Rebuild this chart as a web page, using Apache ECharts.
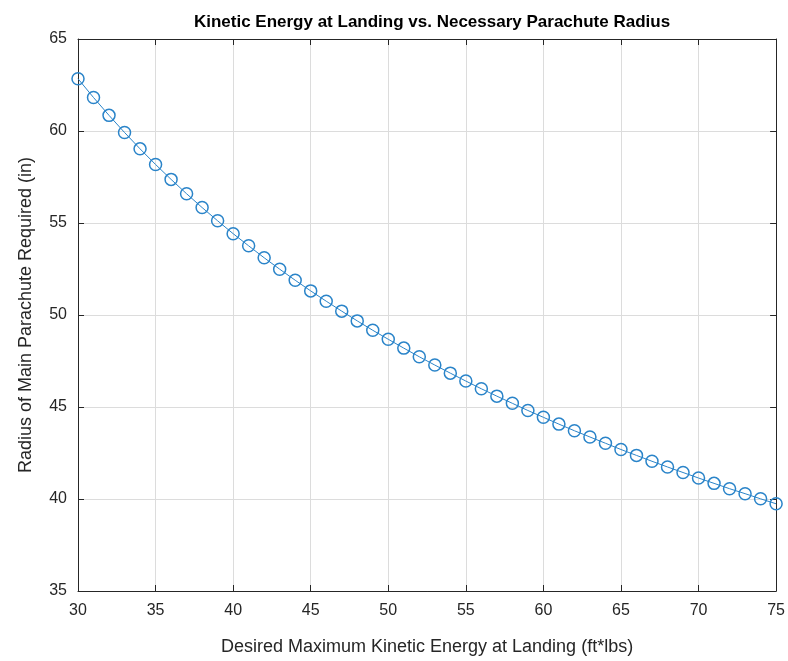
<!DOCTYPE html>
<html lang="en">
<head>
	<meta charset="UTF-8">
	<title>Kinetic Energy vs Parachute Radius</title>
	<script src="https://cdn.jsdelivr.net/npm/echarts@6/dist/echarts.min.js"></script>
	<style>
		html, body { margin: 0; padding: 0; background: #fff; }
	</style>
</head>
<body>
	<div id="chart" style="width: 788px; height: 661px;"></div>
	<script type="text/javascript">

		// desired max kinetic energy (ft*lbs)
		const energy = [30, 31, 32, 33, 34, 35, 36, 37, 38, 39, 40, 41, 42, 43, 44, 45,
			46, 47, 48, 49, 50, 51, 52, 53, 54, 55, 56, 57, 58, 59, 60,
			61, 62, 63, 64, 65, 66, 67, 68, 69, 70, 71, 72, 73, 74, 75];

		// radius of main parachute (in)
		const radius = [62.84, 61.82, 60.85, 59.92, 59.03, 58.18, 57.37, 56.59, 55.84, 55.12,
			54.42, 53.76, 53.11, 52.49, 51.89, 51.31, 50.75, 50.21, 49.68, 49.17,
			48.68, 48.20, 47.73, 47.28, 46.84, 46.41, 45.99, 45.59, 45.20, 44.81,
			44.44, 44.07, 43.71, 43.37, 43.03, 42.69, 42.37, 42.05, 41.74, 41.44,
			41.14, 40.85, 40.56, 40.29, 40.01, 39.74];

		const points = energy.map((e, i) => [e, radius[i]]);

		const font = 'Liberation Sans, Arial, sans-serif';
		const axisCol = '#262626';
		const blue = '#2a84c9';

		const chart = echarts.init(document.getElementById('chart'));

		const boxAxis = {
			axisLine: { show: true, onZero: false, lineStyle: { color: axisCol, width: 1 } },
			axisTick: { show: true, inside: true, length: 6, lineStyle: { color: axisCol } },
			axisLabel: { show: false },
			splitLine: { show: false }
		};

		chart.setOption({
			animation: false,
			title: {
				text: 'Kinetic Energy at Landing vs. Necessary Parachute Radius',
				left: 427,
				textAlign: 'center',
				top: 9,
				textStyle: { fontFamily: font, fontSize: 17, fontWeight: 'bold', color: '#000' }
			},
			grid: { left: 78, right: 10, top: 39, bottom: 68, containLabel: false },
			xAxis: [{
				type: 'value',
				min: 30, max: 75, interval: 5,
				name: 'Desired Maximum Kinetic Energy at Landing (ft*lbs)',
				nameLocation: 'middle',
				nameGap: 47,
				nameTextStyle: { fontFamily: font, fontSize: 18, color: axisCol },
				axisLine: { show: true, onZero: false, lineStyle: { color: axisCol } },
				axisTick: { show: true, inside: true, length: 6, lineStyle: { color: axisCol } },
				axisLabel: { fontFamily: font, fontSize: 16, color: axisCol, margin: 12 },
				splitLine: { show: true, lineStyle: { color: '#dcdcdc', width: 1 } }
			}, Object.assign({ type: 'value', position: 'top', min: 30, max: 75, interval: 5 }, boxAxis)],
			yAxis: [{
				type: 'value',
				min: 35, max: 65, interval: 5,
				name: 'Radius of Main Parachute Required (in)',
				nameLocation: 'middle',
				nameGap: 43,
				nameTextStyle: { fontFamily: font, fontSize: 18, color: axisCol },
				axisLine: { show: true, onZero: false, lineStyle: { color: axisCol } },
				axisTick: { show: true, inside: true, length: 6, lineStyle: { color: axisCol } },
				axisLabel: { fontFamily: font, fontSize: 16, color: axisCol, margin: 11 },
				splitLine: { show: true, lineStyle: { color: '#dcdcdc', width: 1 } }
			}, Object.assign({ type: 'value', position: 'right', min: 35, max: 65, interval: 5 }, boxAxis)],
			series: [{
				type: 'line',
				data: points,
				symbol: 'circle',
				symbolSize: 12,
				lineStyle: { color: blue, width: 1 },
				itemStyle: { color: 'rgba(0,0,0,0)', borderColor: blue, borderWidth: 1.5 },
				clip: false
			}]
		});
	</script>
</body>
</html>
